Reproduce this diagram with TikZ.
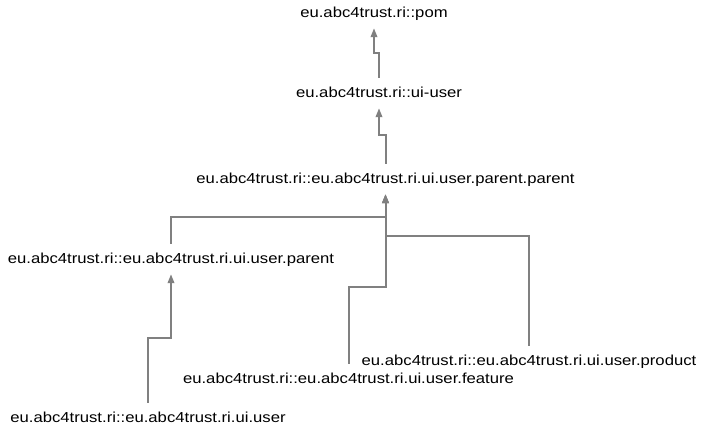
\documentclass[tikz,border=0pt]{standalone}
\usepackage{fontspec}
\setmainfont[FakeStretch=1.15]{Liberation Sans}
\usetikzlibrary{arrows.meta}
\definecolor{linegray}{RGB}{128,128,128}
\begin{document}
\begin{tikzpicture}[x=1pt,y=-1pt,
  lbl/.style={font=\fontsize{14.5}{16}\selectfont, text height=10pt, text depth=2pt,
    inner xsep=0pt, inner ysep=9pt, anchor=base},
  dep/.style={draw=linegray, line width=2pt, -{Triangle[width=6.5pt,length=9pt]}}]
\useasboundingbox[fill=white] (0,0) rectangle (705,432);
\node[lbl] (pom)    at (374,17)    {eu.abc4trust.ri::pom};
\node[lbl] (uiuser) at (379,97)    {eu.abc4trust.ri::ui-user};
\node[lbl] (pp)     at (385.5,183) {eu.abc4trust.ri::eu.abc4trust.ri.ui.user.parent.parent};
\node[lbl] (par)    at (171,263)   {eu.abc4trust.ri::eu.abc4trust.ri.ui.user.parent};
\node[lbl] (prod)   at (529,365)   {eu.abc4trust.ri::eu.abc4trust.ri.ui.user.product};
\node[lbl] (feat)   at (348.5,383) {eu.abc4trust.ri::eu.abc4trust.ri.ui.user.feature};
\node[lbl] (user)   at (148,422)   {eu.abc4trust.ri::eu.abc4trust.ri.ui.user};
\draw[dep] (uiuser.north) -- ++(0,-25) -| (pom.south);
\draw[dep] (pp.north) -- ++(0,-29) -| (uiuser.south);
\draw[dep] (par.north) -- ++(0,-27) -| (pp.south);
\draw[dep] (prod.north) -- ++(0,-110) -| (pp.south);
\draw[dep] (feat.north) -- ++(0,-77) -| (pp.south);
\draw[dep] (user.north) -- ++(0,-65) -| (par.south);
\end{tikzpicture}
\end{document}
